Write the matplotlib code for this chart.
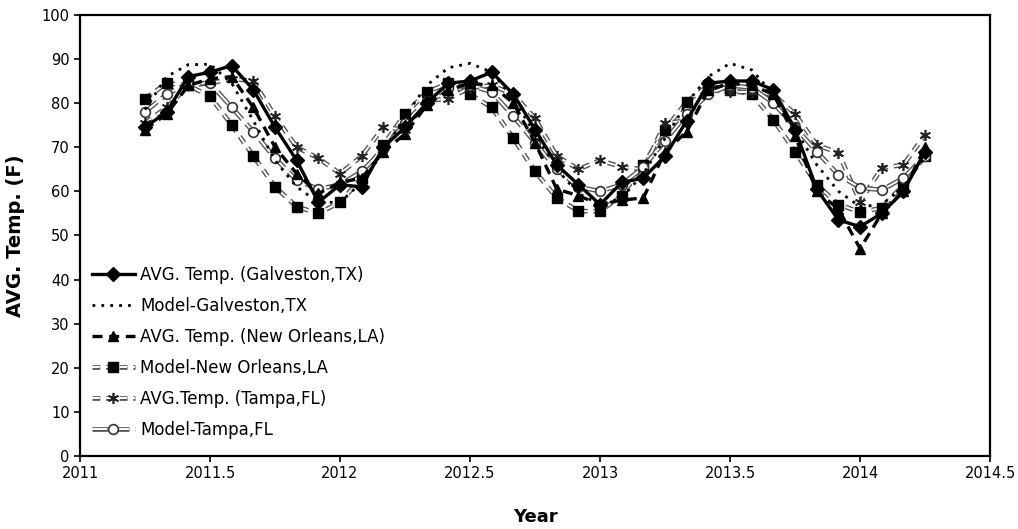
import numpy as np
import matplotlib.pyplot as plt
import matplotlib.patheffects as pe
from matplotlib.legend_handler import HandlerTuple

# monthly points, Apr 2011 .. Apr 2014
years = 2011.25 + np.arange(37) / 12

galv_avg = [74.5, 78, 86, 87, 88.5, 83, 74.5, 67, 57.5, 61.5, 61, 70,
            74.5, 80, 84.5, 85, 87, 82, 74, 66, 61.5, 57, 62, 63,
            68, 76, 84.5, 85, 85, 83, 74, 60.5, 53.5, 52, 55, 60, 69]
galv_model = [78.5, 86, 88.7, 88.8, 84.5, 76, 67, 61, 57.5, 57.5, 62, 69,
              77, 84, 88, 89, 87, 81, 73, 65, 59.5, 57, 58.5, 64,
              72, 80, 86, 89, 87.5, 82, 74, 66, 60, 56.5, 57, 61, 68]
no_avg = [74, 77.5, 84, 85.5, 86, 79, 70, 64, 59.5, 62, 63, 69,
          73, 79.5, 83, 84.5, 84, 80, 71, 60.5, 59, 57, 58, 58.5,
          69, 73.5, 83, 84.5, 84, 82, 72.5, 60, 56, 47, 55, 60, 70]
no_model = [81, 84.5, 84, 81.5, 75, 68, 61, 56.5, 55, 57.5, 63, 70.5,
            77.5, 82.5, 84.5, 82, 79, 72, 64.5, 58.5, 55.5, 55.5, 59, 66,
            74, 80.3, 84, 83, 82, 76.2, 69, 61.5, 57, 55.3, 56.2, 61.5, 68]
tampa_avg = [75.5, 79, 84, 84.5, 85.5, 85, 77, 70, 67.5, 64, 68, 74.5,
             74, 80.5, 81, 83.5, 84, 82, 76.5, 68, 65, 67, 65.5, 65,
             75.5, 76, 83, 82.5, 82.5, 82, 77.5, 70.5, 68.7, 57.6, 65.3, 66, 72.8]
tampa_model = [78, 82, 84.5, 84.5, 79, 73.5, 67.5, 62.5, 60.5, 61.5, 64.5, 69.5,
               75.5, 80.5, 83.5, 84, 82.5, 77, 71, 65, 61, 60, 61.5, 65.5,
               71.5, 77.5, 82, 84, 83.5, 80, 74.5, 69, 63.7, 60.8, 60.3, 63, 68]

hollow = [pe.Stroke(linewidth=3.4, foreground='#555555'), pe.Normal()]

fig = plt.figure(figsize=(10.18, 5.29), dpi=100)
ax = fig.add_axes([0.0786, 0.138, 0.894, 0.834])

h1, = ax.plot(years, galv_avg, color='black', lw=2.4, marker='D', ms=7, zorder=6)
h2, = ax.plot(years, galv_model, color='black', lw=2, linestyle=(0, (1, 2.2)), zorder=5)
h3, = ax.plot(years, no_avg, color='black', lw=2.4, linestyle=(0, (3, 2)),
              marker='^', ms=7, zorder=5)


def hollow_series(y, dash, **mk):
    ln, = ax.plot(years, y, color='white', lw=1.4, linestyle=(0, dash),
                  path_effects=hollow, zorder=3)
    pt, = ax.plot(years, y, linestyle='none', zorder=4, **mk)
    return (ln, pt)


h4 = hollow_series(no_model, (4, 3), marker='s', ms=7, mfc='black', mec='black')
h5 = hollow_series(tampa_avg, (4, 3), marker=(6, 2, 0), ms=8, mec='#222222', mew=1.2)
h6 = hollow_series(tampa_model, (8, 3), marker='o', ms=7, mfc='white', mec='#333333', mew=1.2)

ax.set_xlim(2011, 2014.5)
ax.set_ylim(0, 100)
ax.set_xticks(np.arange(2011, 2014.51, 0.5))
ax.set_xticklabels(['2011', '2011.5', '2012', '2012.5', '2013', '2013.5', '2014', '2014.5'])
ax.set_yticks(np.arange(0, 101, 10))
ax.tick_params(labelsize=10.5, direction='out', length=4, width=1.2)
for s in ax.spines.values():
    s.set_linewidth(1.6)

ax.set_xlabel('Year', fontsize=13, fontweight='bold', labelpad=19)
ax.set_ylabel('AVG. Temp. (F)', fontsize=14, fontweight='bold', labelpad=12)

labels = ['AVG. Temp. (Galveston,TX)', 'Model-Galveston,TX', 'AVG. Temp. (New Orleans,LA)',
          'Model-New Orleans,LA', 'AVG.Temp. (Tampa,FL)', 'Model-Tampa,FL']
ax.legend([h1, h2, h3, h4, h5, h6], labels, handler_map={tuple: HandlerTuple(ndivide=1)},
          loc='lower left', bbox_to_anchor=(0.0, 0.012), frameon=False, fontsize=12,
          handlelength=2.6, handletextpad=0.3, labelspacing=0.78, borderaxespad=0.3)

fig.savefig('out.png', dpi=100)
